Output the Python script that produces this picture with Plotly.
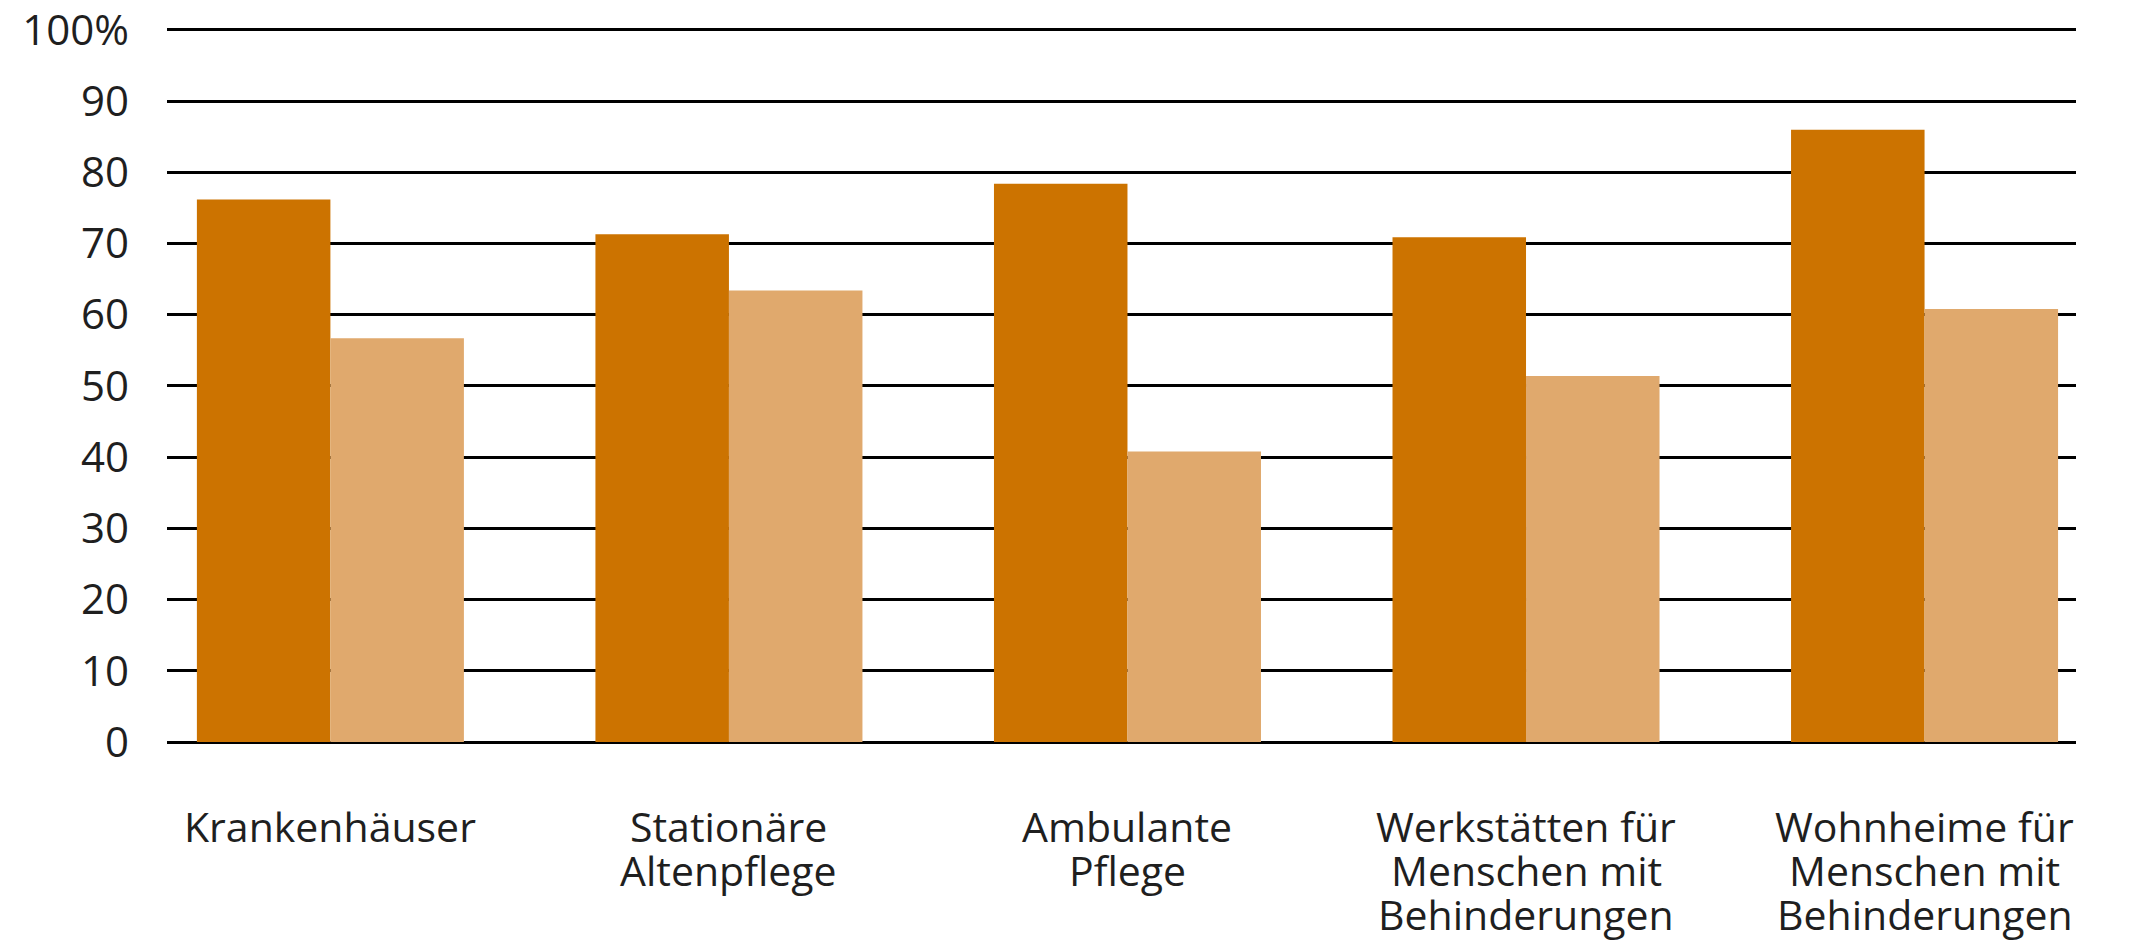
import plotly.graph_objects as go

categories = ["Krankenhäuser", "Stationäre<br>Altenpflege", "Ambulante<br>Pflege",
              "Werkstätten für<br>Menschen mit<br>Behinderungen",
              "Wohnheime für<br>Menschen mit<br>Behinderungen"]
series_dark = [76.2, 71.3, 78.4, 70.9, 86.0]
series_light = [56.7, 63.4, 40.8, 51.4, 60.8]
y_tickvals = [0, 10, 20, 30, 40, 50, 60, 70, 80, 90, 100]
y_ticktext = ["0", "10", "20", "30", "40", "50", "60", "70", "80", "90", "100%"]

DARK = "#CC7300"
LIGHT = "#E0A96D"
TXT = "#1f1f1f"
FONT = "Open Sans"

fig = go.Figure()
fig.add_trace(go.Bar(x=categories, y=series_dark, marker=dict(color=DARK, line=dict(width=0)),
                     showlegend=False, hoverinfo="skip"))
fig.add_trace(go.Bar(x=categories, y=series_light, marker=dict(color=LIGHT, line=dict(width=0)),
                     showlegend=False, hoverinfo="skip"))

annotations = []
for cat in categories:
    lines = cat.split("<br>")
    for k, ln in enumerate(lines):
        annotations.append(dict(
            x=cat, xref="x", y=0, yref="y", yanchor="middle", xanchor="center",
            yshift=-84 - 44 * k, text=ln, showarrow=False,
            font=dict(family=FONT, size=41, color=TXT)))

fig.update_layout(
    width=2149, height=941,
    margin=dict(l=167, r=73, t=26, b=199, autoexpand=False),
    paper_bgcolor="white", plot_bgcolor="white",
    barmode="group", bargap=0.33, bargroupgap=0,
    annotations=annotations,
    xaxis=dict(type="category", range=[-0.41, 4.38], showticklabels=False,
               showgrid=False, zeroline=False, showline=False, ticks="",
               automargin=False),
    yaxis=dict(range=[0, 100.56], tickvals=y_tickvals, ticktext=y_ticktext,
               showgrid=True, gridcolor="black", gridwidth=3,
               zeroline=True, zerolinecolor="black", zerolinewidth=3,
               showline=False, ticks="", ticklabelstandoff=37,
               ticklabeloverflow="allow", automargin=False,
               tickfont=dict(family=FONT, size=42, color=TXT)),
)

fig.write_html("out.html")
